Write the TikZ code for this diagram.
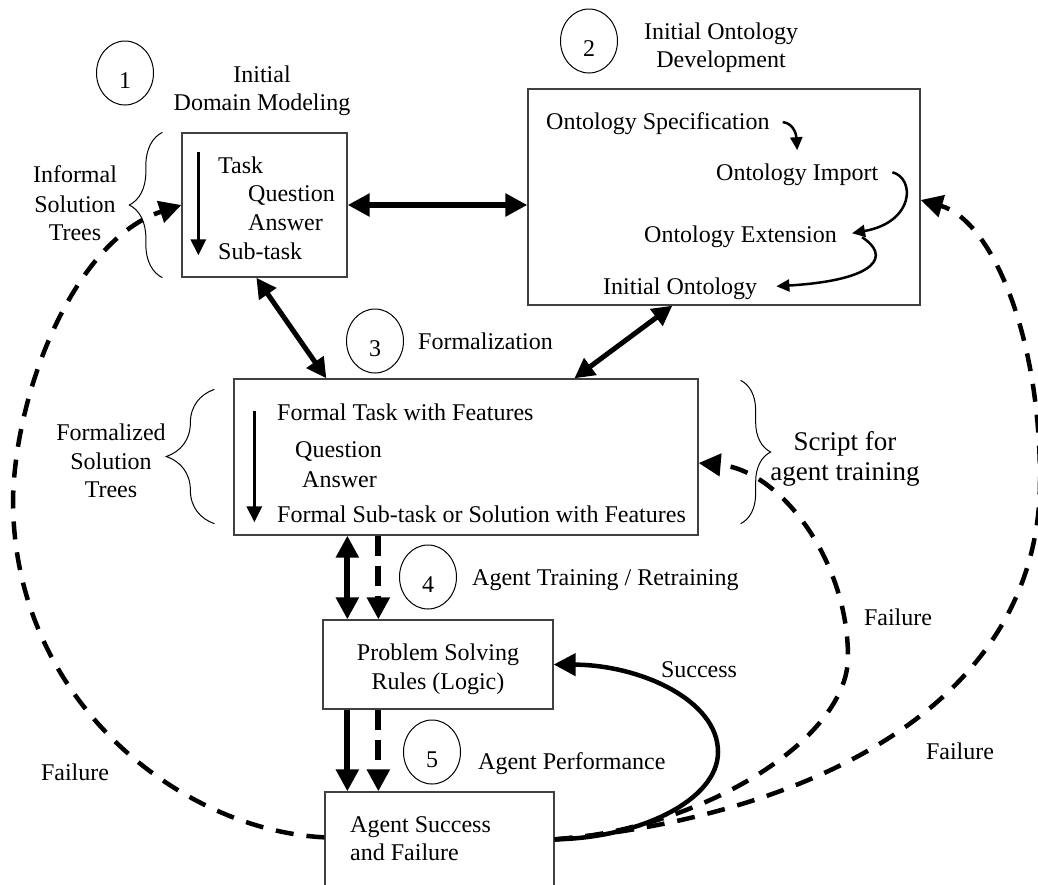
\documentclass[tikz,border=0pt]{standalone}
\usepackage{fontspec}
\setmainfont{Liberation Serif}
\usetikzlibrary{arrows.meta,calc,shapes.geometric,decorations.pathreplacing}
\begin{document}
\begin{tikzpicture}[x=1pt,y=-1pt,
  txt/.style={inner sep=0pt, font=\fontsize{24}{28}\selectfont},
  bigtxt/.style={inner sep=0pt, font=\fontsize{27}{31}\selectfont},
  box/.style={draw=black!75, line width=1.3pt, inner sep=0pt},
  stepnum/.style={draw, ellipse, line width=1pt, minimum width=57pt, minimum height=64pt,
    inner sep=0pt, text height=30pt, text depth=0pt, font=\fontsize{24}{28}\selectfont},
  heavy/.style={line width=6pt, -{Triangle[length=22pt,width=22pt]}},
  heavyboth/.style={line width=6pt, {Triangle[length=22pt,width=22pt]}-{Triangle[length=22pt,width=22pt]}},
  diagboth/.style={line width=5pt, {Triangle[length=20pt,width=20pt]}-{Triangle[length=20pt,width=20pt]}},
  heavydash/.style={heavy, dash pattern=on 20pt off 10pt},
  failcurve/.style={line width=4.5pt, dash pattern=on 18pt off 13pt, -{Triangle[length=22pt,width=22pt]}},
  loopcurve/.style={line width=4.5pt, -{Triangle[length=22pt,width=22pt]}},
  thinarrow/.style={line width=2.5pt, -{Triangle[length=13pt,width=12pt]}},
  listarrow/.style={line width=3pt, -{Triangle[length=16pt,width=15pt]}},
  brc/.style={decorate, line width=1pt},
]
\useasboundingbox (0,0) rectangle (1038,884);

% ---------- boxes ----------
\node[box, minimum width=165pt, minimum height=144pt] (b1) at (264.5,205) {};
\node[box, minimum width=392pt, minimum height=216pt] (b2) at (724,197) {};
\node[box, minimum width=464pt, minimum height=156pt] (b3) at (466,457) {};
\node[box, minimum width=230pt, minimum height=89pt] (b4) at (438,664.5) {};
\node[box, minimum width=229pt, minimum height=138pt] (b5) at (439.5,861) {};

% ---------- numbered stages ----------
\node[stepnum] (n1) at (125,73) {1};
\node[stepnum] (n2) at (589,41) {2};
\node[stepnum] (n3) at (375,341) {3};
\node[stepnum] (n4) at (428,577) {4};
\node[stepnum] (n5) at (432,752) {5};

% ---------- stage titles ----------
\node[txt, anchor=base] (h1a) at (262,82) {Initial};
\node[txt, anchor=base] (h1b) at (262,110) {Domain Modeling};
\node[txt, anchor=base] (h2a) at (721,39) {Initial Ontology};
\node[txt, anchor=base] (h2b) at (721,67) {Development};
\node[txt, anchor=base west] (h3) at (418,349) {Formalization};
\node[txt, anchor=base west] (h4) at (472,585) {Agent Training / Retraining};
\node[txt, anchor=base west] (h5) at (478,769) {Agent Performance};

% ---------- domain modeling box ----------
\node[txt, anchor=base west] (task) at (218,173) {Task};
\node[txt, anchor=base west] (q1) at (248,201) {Question};
\node[txt, anchor=base west] (a1) at (248,230) {Answer};
\node[txt, anchor=base west] (sub) at (218,259) {Sub-task};
\draw[listarrow] ($(b1.north west)+(17,20)$) -- ($(b1.north west)+(17,123)$);

% ---------- ontology box ----------
\node[txt, anchor=base west] (spec) at (546,129) {Ontology Specification};
\node[txt, anchor=base west] (imp) at (716,180) {Ontology Import};
\node[txt, anchor=base west] (ext) at (644,242) {Ontology Extension};
\node[txt, anchor=base west] (ini) at (603,294) {Initial Ontology};
\draw[thinarrow] ($(spec.east)+(13,-1)$) .. controls (792,123) and (796,132) .. ($(imp.north)+(0,-13)$);
\draw[thinarrow] ($(imp.east)+(14,-2)$) .. controls (915,178) and (915,222) .. ($(ext.east)+(15,-3)$);
\draw[thinarrow] ($(ext.east)+(25,1)$) .. controls (890,255) and (880,280) .. ($(ini.east)+(19,-2)$);

% ---------- formalization box ----------
\node[txt, anchor=base west] (ftask) at (277,420) {Formal Task with Features};
\node[txt, anchor=base west] (q2) at (295,457) {Question};
\node[txt, anchor=base west] (a2) at (302,487) {Answer};
\node[txt, anchor=base west] (fsub) at (277,522) {Formal Sub-task or Solution with Features};
\draw[listarrow] ($(b3.north west)+(21,33)$) -- ($(b3.north west)+(21,144)$);

% ---------- rules and performance boxes ----------
\node[txt, anchor=base] (r1) at (438,660) {Problem Solving};
\node[txt, anchor=base] (r2) at (438,689) {Rules (Logic)};
\node[txt, anchor=base west] (s1) at (350,832) {Agent Success};
\node[txt, anchor=base west] (s2) at (350,860) {and Failure};

% ---------- braces and their captions ----------
\draw[brc, decoration={brace, amplitude=33pt}]
  ($(b1.south west)+(-19,0)$) -- ($(b1.north west)+(-19,0)$);
\node[txt, anchor=base] (inf1) at (75,182) {Informal};
\node[txt, anchor=base] (inf2) at (75,212) {Solution};
\node[txt, anchor=base] (inf3) at (75,240) {Trees};

\draw[brc, decoration={brace, amplitude=48pt}]
  ($(b3.south west)+(-19,-12)$) -- ($(b3.north west)+(-19,11)$);
\node[txt, anchor=base] (fo1) at (111,440) {Formalized};
\node[txt, anchor=base] (fo2) at (111,469) {Solution};
\node[txt, anchor=base] (fo3) at (111,497) {Trees};

\draw[brc, decoration={brace, amplitude=30pt}]
  ($(b3.north east)+(42,2)$) -- ($(b3.south east)+(42,-12)$);
\node[bigtxt, anchor=base] (sc1) at (845,450) {Script for};
\node[bigtxt, anchor=base] (sc2) at (845,480) {agent training};

% ---------- connectors between stages ----------
\draw[heavyboth] (b1.east) -- (b1.east -| b2.west);
\draw[diagboth] ($(b1.south west)+(75,0)$) -- ($(b3.north west)+(93,0)$);
\draw[diagboth] ($(b2.south west)+(145,0)$) -- ($(b3.north west)+(341,0)$);

\draw[heavyboth] ($(b3.south west)+(114,0)$) -- ($(b4.north west)+(25,0)$);
\draw[heavydash] ($(b3.south west)+(145,0)$) -- ($(b4.north west)+(56,0)$);
\draw[heavy] ($(b4.south west)+(25,0)$) -- ($(b5.north west)+(23,0)$);
\draw[heavydash] ($(b4.south west)+(56,0)$) -- ($(b5.north west)+(54,0)$);

% ---------- feedback loops ----------
\draw[loopcurve] ($(b5.north east)+(0,48)$) .. controls (640,838) and (718,800) .. (718,752)
  .. controls (718,700) and (640,665) .. (b4.east);
\node[txt, anchor=base] (succ) at (699,677) {Success};

\draw[failcurve] ($(b5.north east)+(0,48)$) .. controls (700,830) and (848,740) .. (848,657)
  .. controls (848,560) and (780,470) .. ($(b3.east)+(0,6)$);
\node[txt, anchor=base] (fail1) at (898,625) {Failure};

\draw[failcurve] ($(b5.north east)+(0,48)$) .. controls (780,820) and (1040,720) .. (1040,480)
  .. controls (1040,330) and (990,220) .. ($(b2.east)+(0,3)$);
\node[txt, anchor=base] (fail2) at (960,759) {Failure};

\draw[failcurve] ($(b5.north west)+(0,46)$) .. controls (180,830) and (13,700) .. (13,500)
  .. controls (15,390) and (75,240) .. (b1.west);
\node[txt, anchor=base] (fail3) at (75,780) {Failure};
\end{tikzpicture}
\end{document}
